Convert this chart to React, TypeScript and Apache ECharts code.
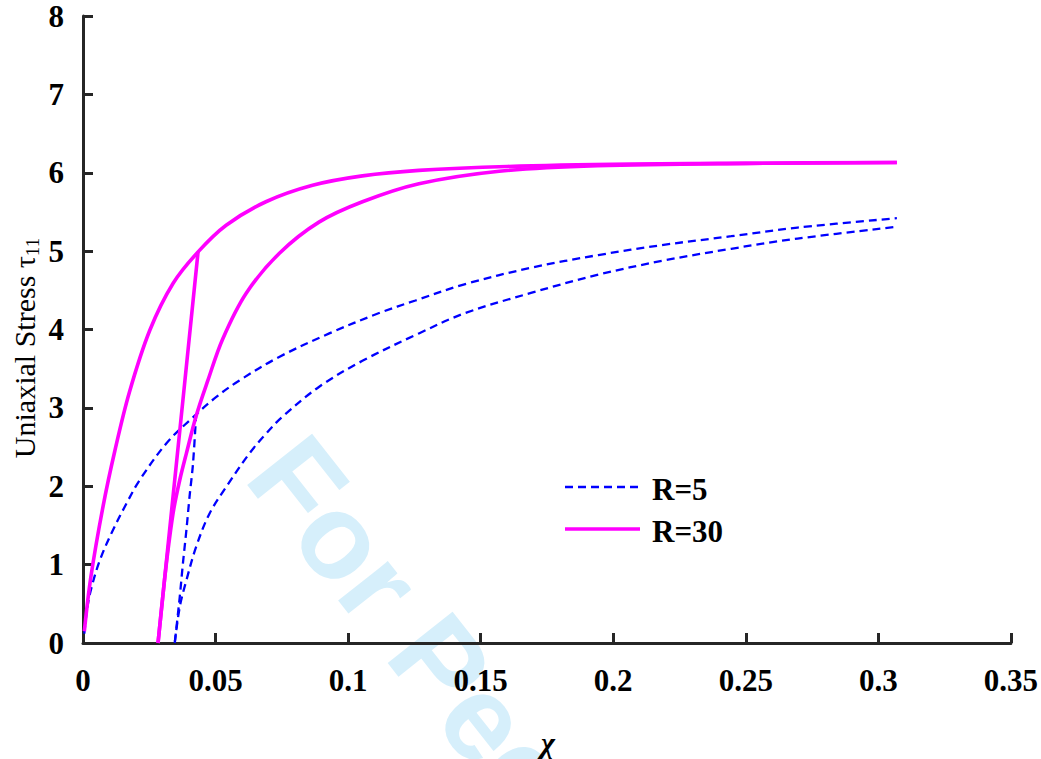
import React, { useEffect, useRef } from "react";
import * as echarts from "echarts";

// R = 5 : monotonic loading curve
const r5LoadX = [0.0005, 0.0015, 0.003, 0.0064, 0.011, 0.0164, 0.0214, 0.0315, 0.0402, 0.0503, 0.059, 0.074, 0.0929, 0.1117, 0.1254, 0.1442, 0.1693, 0.1944, 0.219, 0.2445, 0.2695, 0.307];
const r5LoadY = [0.12, 0.42, 0.68, 1.06, 1.42, 1.78, 2.08, 2.55, 2.84, 3.14, 3.35, 3.65, 3.95, 4.21, 4.37, 4.58, 4.79, 4.95, 5.08, 5.19, 5.3, 5.42];
// R = 5 : unloading then reloading
const r5UnloadX = [0.0427, 0.0415, 0.0402, 0.039, 0.0377, 0.0365, 0.0346];
const r5UnloadY = [2.93, 2.29, 1.87, 1.44, 1.02, 0.59, 0.0];
const r5ReloadX = [0.0346, 0.0365, 0.039, 0.0427, 0.0477, 0.054, 0.0628, 0.069, 0.0753, 0.0891, 0.1054, 0.1267, 0.1442, 0.1693, 0.1944, 0.219, 0.2445, 0.2695, 0.307];
const r5ReloadY = [0.0, 0.46, 0.8, 1.23, 1.65, 1.99, 2.42, 2.67, 2.89, 3.27, 3.6, 3.95, 4.21, 4.47, 4.7, 4.88, 5.03, 5.16, 5.31];

// R = 30 : monotonic loading curve
const r30LoadX = [0.0005, 0.003, 0.0076, 0.012, 0.0175, 0.0252, 0.034, 0.0434, 0.054, 0.069, 0.0866, 0.1054, 0.1267, 0.16, 0.207, 0.25, 0.307];
const r30LoadY = [0.15, 0.85, 1.75, 2.45, 3.2, 3.99, 4.59, 4.99, 5.33, 5.63, 5.84, 5.96, 6.03, 6.08, 6.11, 6.12, 6.13];
// R = 30 : unloading (straight) line
const r30UnloadX = [0.0434, 0.0383, 0.0283];
const r30UnloadY = [4.99, 3.3, 0.0];
// R = 30 : reloading curve
const r30ReloadX = [0.0283, 0.0308, 0.0325, 0.0343, 0.0365, 0.039, 0.0427, 0.0471, 0.0527, 0.0615, 0.074, 0.089, 0.1054, 0.1267, 0.157, 0.194, 0.25, 0.307];
const r30ReloadY = [0.0, 0.82, 1.3, 1.72, 2.08, 2.42, 2.9, 3.35, 3.88, 4.46, 4.97, 5.37, 5.63, 5.86, 6.02, 6.09, 6.12, 6.13];

const xMin = 0, xMax = 0.35, xStep = 0.05;
const yMin = 0, yMax = 8, yStep = 1;

const pairs = (xs: number[], ys: number[]) => xs.map((x, i) => [x, ys[i]]);

const SERIF = "Liberation Serif";
const BLUE = "#0000ff";
const MAGENTA = "#ff00ff";
const AXIS = "#262626";

export default function App() {
  const ref = useRef<HTMLDivElement>(null);
  useEffect(() => {
    if (!ref.current) return;
    const chart = echarts.init(ref.current, null, { renderer: "svg" });
    const blueLine = { color: BLUE, width: 2.3, type: [8, 5] as any };
    const magLine = { color: MAGENTA, width: 3.6, type: "solid" as any };
    const base = { type: "line", showSymbol: false, symbol: "none", animation: false };
    const labelText = (text: string, x: number, y: number) => ({
      type: "text",
      x,
      y,
      style: {
        text,
        fill: "#000",
        fontFamily: SERIF,
        fontWeight: "bold",
        fontSize: 31,
        textAlign: "left",
        textVerticalAlign: "middle",
        align: "left",
        verticalAlign: "middle",
      },
    });
    chart.setOption({
      animation: false,
      backgroundColor: "#ffffff",
      grid: { left: 83, right: 27, top: 16, bottom: 116, containLabel: false },
      xAxis: {
        type: "value",
        min: xMin,
        max: xMax,
        interval: xStep,
        axisLine: { onZero: false, lineStyle: { color: AXIS, width: 3 } },
        axisTick: { inside: true, length: 10, lineStyle: { color: AXIS, width: 3 } },
        axisLabel: { color: "#000", fontFamily: SERIF, fontWeight: "bold", fontSize: 31, margin: 22 },
        splitLine: { show: false },
      },
      yAxis: {
        type: "value",
        min: yMin,
        max: yMax,
        interval: yStep,
        axisLine: { show: true, onZero: false, lineStyle: { color: AXIS, width: 3 } },
        axisTick: { show: true, inside: true, length: 10, lineStyle: { color: AXIS, width: 3 } },
        axisLabel: { color: "#000", fontFamily: SERIF, fontWeight: "bold", fontSize: 31, margin: 19 },
        splitLine: { show: false },
      },
      graphic: [
        {
          type: "text",
          z: -10,
          x: 228,
          y: 490,
          rotation: (-51.7 * Math.PI) / 180,
          silent: true,
          style: {
            text: "For Peer Review",
            fill: "rgb(214,239,251)",
            fontFamily: "Liberation Sans",
            fontWeight: "bold",
            fontSize: 120,
            textAlign: "left",
            textVerticalAlign: "bottom",
            align: "left",
            verticalAlign: "bottom",
          },
        },
        {
          type: "text",
          x: 24,
          y: 348,
          rotation: Math.PI / 2,
          style: {
            text: "{a|Uniaxial Stress τ}{b|11}",
            fill: "#000",
            textAlign: "center",
            textVerticalAlign: "middle",
            align: "center",
            verticalAlign: "middle",
            rich: {
              a: { fontFamily: SERIF, fontSize: 30, fontWeight: "normal", lineHeight: 36, fill: "#000" },
              b: { fontFamily: SERIF, fontSize: 19, fontWeight: "normal", lineHeight: 19, verticalAlign: "bottom", fill: "#000" },
            },
          },
        },
        {
          type: "text",
          x: 548,
          y: 742,
          style: {
            text: "χ",
            fill: "#000",
            fontFamily: SERIF,
            fontWeight: "bold",
            fontStyle: "italic",
            fontSize: 30,
            textAlign: "center",
            textVerticalAlign: "middle",
            align: "center",
            verticalAlign: "middle",
          },
        },
        {
          type: "line",
          shape: { x1: 565, y1: 487, x2: 638, y2: 487 },
          style: { stroke: BLUE, lineWidth: 2.3, lineDash: [8, 5] },
        },
        {
          type: "line",
          shape: { x1: 565, y1: 529, x2: 640, y2: 529 },
          style: { stroke: MAGENTA, lineWidth: 3.6 },
        },
        labelText("R=5", 652, 489),
        labelText("R=30", 652, 531),
      ],
      series: [
        { ...base, name: "R=5", data: pairs(r5LoadX, r5LoadY), smooth: 0.35, lineStyle: blueLine },
        { ...base, name: "R=5", data: pairs(r5UnloadX, r5UnloadY), smooth: 0.3, lineStyle: blueLine },
        { ...base, name: "R=5", data: pairs(r5ReloadX, r5ReloadY), smooth: 0.35, lineStyle: blueLine },
        { ...base, name: "R=30", data: pairs(r30LoadX, r30LoadY), smooth: 0.35, lineStyle: magLine },
        { ...base, name: "R=30", data: pairs(r30UnloadX, r30UnloadY), smooth: false, lineStyle: magLine },
        { ...base, name: "R=30", data: pairs(r30ReloadX, r30ReloadY), smooth: 0.35, lineStyle: magLine },
      ],
    });
    return () => chart.dispose();
  }, []);
  return (
    <div
      ref={ref}
      style={{ position: "fixed", left: 0, top: 0, width: 1041, height: 759, background: "#fff" }}
    />
  );
}
